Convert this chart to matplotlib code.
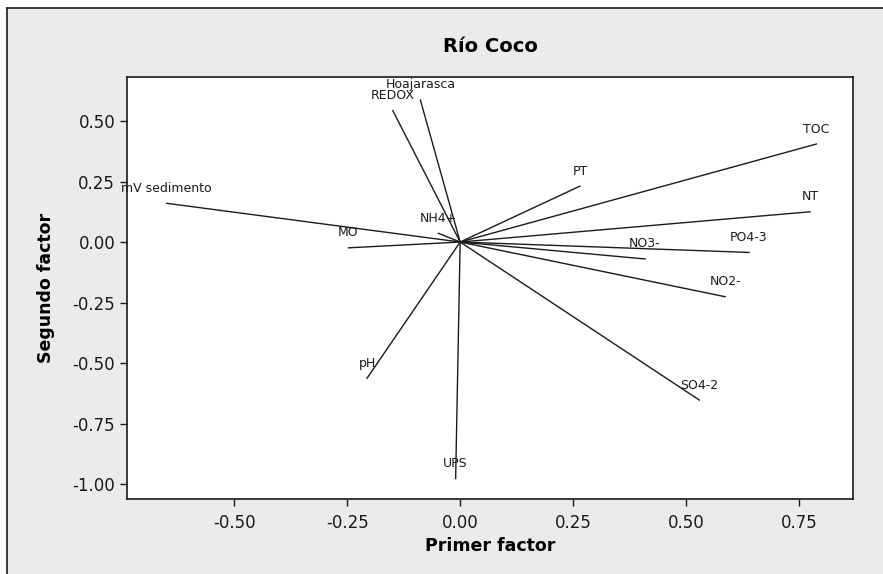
from matplotlib import pyplot as plt
from matplotlib.patches import Rectangle
from matplotlib.lines import Line2D

# loadings of each variable on the first two factors
variables = ['mV sedimento', 'MO', 'REDOX', 'Hoajarasca', 'NH4+', 'PT', 'TOC',
             'NT', 'PO4-3', 'NO3-', 'NO2-', 'SO4-2', 'UPS', 'pH']
factor1 = [-0.649, -0.247, -0.149, -0.088, -0.048, 0.265, 0.788,
           0.774, 0.639, 0.409, 0.586, 0.529, -0.010, -0.206]
factor2 = [0.160, -0.024, 0.543, 0.587, 0.036, 0.231, 0.405,
           0.125, -0.043, -0.070, -0.226, -0.653, -0.977, -0.563]

xticks = [-0.50, -0.25, 0.00, 0.25, 0.50, 0.75]
yticks = [0.50, 0.25, 0.00, -0.25, -0.50, -0.75, -1.00]

fig = plt.figure(figsize=(8.83, 5.74), dpi=100)
fig.patch.set_facecolor('white')

# gray panel with a dark left/top edge
fig.patches.append(Rectangle((7 / 883, 0), 1, 1 - 8 / 574, transform=fig.transFigure,
                             facecolor='#ebebeb', edgecolor='none', zorder=-5))
fig.lines.append(Line2D([7 / 883, 1], [1 - 8 / 574, 1 - 8 / 574], transform=fig.transFigure,
                        color='#1a1a1a', lw=1.2, zorder=-4))
fig.lines.append(Line2D([7 / 883, 7 / 883], [0, 1 - 8 / 574], transform=fig.transFigure,
                        color='#1a1a1a', lw=1.2, zorder=-4))

ax = fig.add_axes([127 / 883, 1 - 499 / 574, (853 - 127) / 883, (499 - 77) / 574])
ax.set_zorder(2)
ax.set_facecolor('white')

for name, x, y in zip(variables, factor1, factor2):
    ax.plot([0, x], [0, y], color='#1a1a1a', lw=1.0)
    ax.annotate(name, (x, y), xytext=(0, 15), textcoords='offset pixels',
                ha='center', va='center', fontsize=9, color='#1a1a1a')

ax.set_xlim(-0.737, 0.869)
ax.set_ylim(-1.062, 0.682)
ax.set_xticks(xticks)
ax.set_yticks(yticks)
ax.set_xticklabels(['%.2f' % t for t in xticks])
ax.set_yticklabels(['%.2f' % t for t in yticks])
ax.tick_params(axis='both', labelsize=12, length=5, width=1, colors='#1a1a1a')
ax.tick_params(axis='x', pad=6)

for s in ax.spines.values():
    s.set_color('#1a1a1a')
    s.set_linewidth(1.2)

fig.text(490 / 883, 1 - 47 / 574, 'Río Coco', ha='center', va='center',
         fontsize=14, fontweight='bold')
fig.text(490 / 883, 1 - 546 / 574, 'Primer factor', ha='center', va='center',
         fontsize=12.5, fontweight='bold')
fig.text(46 / 883, 1 - 288 / 574, 'Segundo factor', ha='center', va='center',
         rotation=90, fontsize=12.5, fontweight='bold')

fig.savefig('out.png', dpi=100, facecolor=fig.get_facecolor())
